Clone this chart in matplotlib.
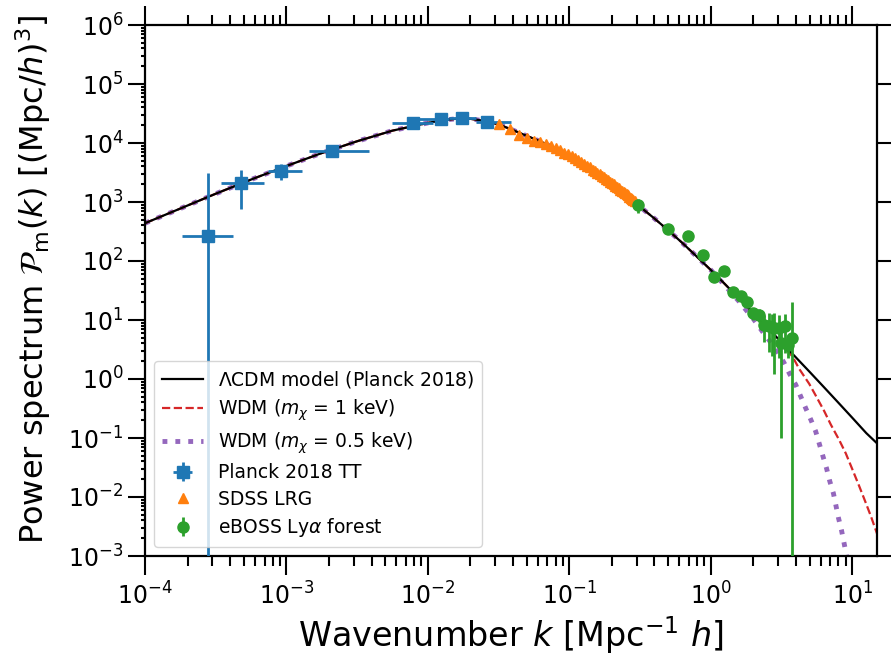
import numpy as np
import matplotlib
matplotlib.use("Agg")
import matplotlib.pyplot as plt
from matplotlib.ticker import LogLocator, NullFormatter

# LCDM linear matter power spectrum (Planck 2018)
k_model = [1e-4, 1.78e-4, 3.16e-4, 5.62e-4, 1e-3, 1.78e-3, 3.16e-3, 5.62e-3,
           0.01, 0.0126, 0.0158, 0.02, 0.0251, 0.0316, 0.0398, 0.0501, 0.0631,
           0.0794, 0.1, 0.126, 0.158, 0.2, 0.251, 0.316, 0.398, 0.501, 0.631,
           0.794, 1.0, 1.26, 1.58, 2.0, 2.51, 3.16, 3.98, 5.01, 6.31, 7.94,
           10.0, 12.6, 15.0]
P_lcdm = [437, 776, 1380, 2400, 4070, 6760, 10700, 16200,
          21900, 24300, 25700, 25700, 23700, 20700, 16600, 13200, 10500,
          8130, 6100, 4320, 2990, 2000, 1300, 832, 531, 331, 202,
          120, 70.8, 40.7, 23.4, 13.3, 7.50, 4.22, 2.36, 1.32, 0.731, 0.404,
          0.222, 0.121, 0.0813]

# warm dark matter tails (below they follow LCDM)
k_wdm1_tail = [3.16, 3.79, 4.23, 4.97, 5.53, 6.34, 7.06, 8.09, 9.02, 10.0,
               11.2, 12.5, 13.6, 15.0]
P_wdm1_tail = [3.98, 2.40, 1.48, 0.832, 0.525, 0.288, 0.170, 0.0933, 0.0550,
               0.0302, 0.0155, 0.00794, 0.00468, 0.0024]
k_wdm05_tail = [1.26, 1.58, 2.0, 2.33, 2.66, 3.05, 3.31, 3.61, 4.0, 4.34, 4.71,
                5.11, 5.53, 5.85, 6.24, 6.59, 6.95, 7.38, 8.02, 8.41, 8.79, 9.33]
P_wdm05_tail = [38.5, 20.9, 10.5, 6.31, 4.17, 2.63, 1.86, 1.23, 0.794, 0.501,
                0.316, 0.204, 0.129, 0.0813, 0.0479, 0.0309, 0.0186, 0.0115,
                0.00437, 0.00275, 0.00162, 0.00079]

# Planck 2018 TT reconstruction
k_planck = [2.77e-4, 4.74e-4, 9.2e-4, 2.09e-3, 7.8e-3, 1.245e-2, 1.74e-2, 2.63e-2]
k_planck_lo = [1.82e-4, 3.44e-4, 7.4e-4, 1.44e-3, 5.57e-3, 8.7e-3, 1.42e-2, 2.19e-2]
k_planck_hi = [4.16e-4, 6.92e-4, 1.29e-3, 3.82e-3, 1.08e-2, 1.42e-2, 2.19e-2, 3.87e-2]
P_planck = [263, 2120, 3400, 7400, 21900, 25300, 26100, 23000]
P_planck_err_lo = [263, 1350, 1050, 600, 2000, 2000, 2000, 2000]
P_planck_err_hi = [2840, 1350, 1050, 600, 2000, 2000, 2000, 2000]

# SDSS DR7 LRG
k_lrg = [0.032, 0.038, 0.044, 0.050, 0.056, 0.062, 0.068, 0.074, 0.080, 0.086,
         0.092, 0.098, 0.104, 0.110, 0.116, 0.122, 0.128, 0.134, 0.140, 0.146,
         0.152, 0.158, 0.164, 0.170, 0.176, 0.182, 0.188, 0.194, 0.200, 0.206,
         0.212, 0.218, 0.224, 0.230, 0.236, 0.242, 0.248, 0.254, 0.260, 0.266,
         0.272, 0.278, 0.284, 0.290]
P_lrg = [21400, 17000, 13800, 12000, 11000, 10500, 9500, 8900, 8100, 7600,
         6900, 6450, 6000, 5500, 5100, 4700, 4450, 4100, 3900, 3550,
         3400, 3100, 2950, 2750, 2630, 2450, 2340, 2190, 2090, 2000,
         1860, 1780, 1700, 1620, 1550, 1480, 1410, 1350, 1290, 1230,
         1175, 1120, 1085, 1050]

# eBOSS Lyman-alpha forest
k_lya = [0.305, 0.497, 0.686, 0.877, 1.06, 1.25, 1.43, 1.63, 1.82, 2.0, 2.2,
         2.39, 2.59, 2.72, 2.81, 3.05, 3.13, 3.37, 3.55, 3.75]
P_lya = [890, 347, 263, 128, 54, 67, 29.6, 25.6, 20.5, 13, 12.2,
         8.2, 7.9, 7.5, 7.2, 7.3, 4.0, 7.8, 3.8, 5.0]
P_lya_err = [250, 40, 30, 15, 8, 9, 4, 4, 3, 3, 3,
             4, 5, 5, 6, 5, 3.9, 5, 1.5, 15]

fig = plt.figure(figsize=(8.91, 6.59), dpi=100)
ax = fig.add_axes([145 / 891, 103 / 659, 732 / 891, 531 / 659])

n1 = k_model.index(2.51)
n05 = k_model.index(1.0)
k_wdm1 = k_model[:n1 + 1] + k_wdm1_tail
P_wdm1 = P_lcdm[:n1 + 1] + P_wdm1_tail
k_wdm05 = k_model[:n05 + 1] + k_wdm05_tail
P_wdm05 = P_lcdm[:n05 + 1] + P_wdm05_tail

l_lcdm, = ax.plot(k_model, P_lcdm, color="black", lw=1.6, zorder=3,
                  label=r"$\Lambda$CDM model (Planck 2018)")
l_w1, = ax.plot(k_wdm1, P_wdm1, "--", color="tab:red", lw=1.6, zorder=2,
                label=r"WDM ($m_\chi$ = 1 keV)")
l_w05, = ax.plot(k_wdm05, P_wdm05, ":", color="tab:purple", lw=3.5, zorder=1,
                 label=r"WDM ($m_\chi$ = 0.5 keV)")

xerr = [np.array(k_planck) - np.array(k_planck_lo),
        np.array(k_planck_hi) - np.array(k_planck)]
e_pl = ax.errorbar(k_planck, P_planck, xerr=xerr,
                   yerr=[P_planck_err_lo, P_planck_err_hi],
                   fmt="s", color="tab:blue", ms=8, elinewidth=2, zorder=4,
                   label="Planck 2018 TT")
l_lrg, = ax.plot(k_lrg, P_lrg, "^", color="tab:orange", ms=7, zorder=4,
                 label="SDSS LRG")
e_ly = ax.errorbar(k_lya, P_lya, yerr=P_lya_err, fmt="o", color="tab:green",
                   ms=8, elinewidth=2, zorder=4,
                   label=r"eBOSS Ly$\alpha$ forest")

ax.set_xscale("log")
ax.set_yscale("log")
ax.set_xlim(1e-4, 15)
ax.set_ylim(1e-3, 1e6)

ax.yaxis.set_major_locator(LogLocator(base=10, numticks=20))
ax.yaxis.set_minor_locator(LogLocator(base=10, subs=np.arange(2, 10), numticks=20))
ax.yaxis.set_minor_formatter(NullFormatter())

for s in ax.spines.values():
    s.set_linewidth(1.6)

ax.tick_params(which="both", direction="out", top=True, right=True,
               labelsize=17, width=1.5)
ax.tick_params(axis="x", which="major", length=14, pad=5)
ax.tick_params(axis="x", which="minor", length=7)
ax.tick_params(axis="y", which="major", length=12)
ax.tick_params(axis="y", which="minor", length=3, right=False)

ax.set_xlabel(r"Wavenumber $k$ [Mpc$^{-1}$ $h$]", fontsize=24, labelpad=3)
ax.set_ylabel(r"Power spectrum $\mathcal{P}_\mathrm{m}(k)$ [(Mpc/$h$)$^3$]",
              fontsize=23)
ax.yaxis.set_label_coords(-0.125, 0.52)

ax.legend(handles=[l_lcdm, l_w1, l_w05, e_pl, l_lrg, e_ly], loc="lower left",
          fontsize=13.5, labelspacing=0.4, handlelength=2.2)

fig.savefig("out.png", dpi=100)
